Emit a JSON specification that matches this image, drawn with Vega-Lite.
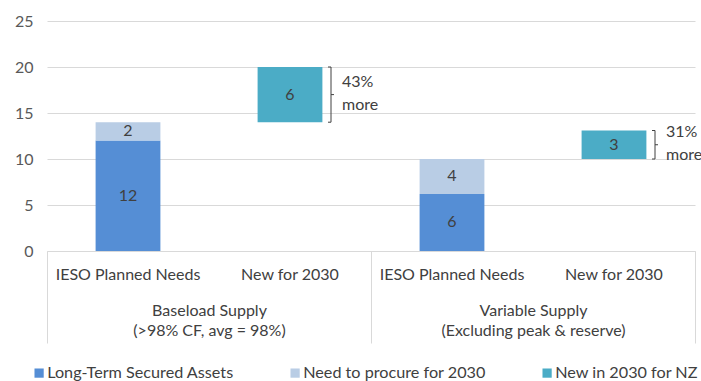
{
  "$schema": "https://vega.github.io/schema/vega-lite/v6.json",
  "width": 648,
  "height": 230,
  "autosize": {"type": "none"},
  "padding": {"left": 47, "top": 21, "right": 6, "bottom": 130},
  "background": "white",
  "config": {"view": {"stroke": null}, "font": "Lato"},
  "layer": [
    {
      "data": {
        "values": [
          {"cat": "b1", "series": "Long-Term Secured Assets", "low": 0, "high": 12},
          {"cat": "b1", "series": "Need to procure for 2030", "low": 12, "high": 14},
          {"cat": "b2", "series": "New in 2030 for NZ", "low": 14, "high": 20, "note": "43%\nmore"},
          {"cat": "v1", "series": "Long-Term Secured Assets", "low": 0, "high": 6.2},
          {"cat": "v1", "series": "Need to procure for 2030", "low": 6.2, "high": 10},
          {"cat": "v2", "series": "New in 2030 for NZ", "low": 10, "high": 13.1, "note": "31%\nmore"}
        ]
      },
      "transform": [
        {"calculate": "(datum.low + datum.high) / 2", "as": "mid"},
        {"calculate": "datum.high - datum.low", "as": "value"}
      ],
      "encoding": {
        "x": {
          "field": "cat",
          "type": "nominal",
          "sort": ["b1", "b2", "v1", "v2"],
          "scale": {"paddingInner": 0.6, "paddingOuter": 0.3},
          "axis": {
            "orient": "bottom",
            "title": null,
            "labelExpr": "datum.value == 'b1' || datum.value == 'v1' ? 'IESO Planned Needs' : 'New for 2030'",
            "domain": true,
            "domainColor": "#d9d9d9",
            "ticks": false,
            "labelPadding": 15,
            "labelFontSize": 16,
            "labelColor": "#404040",
            "labelAngle": 0,
            "labelLimit": 300
          }
        }
      },
      "layer": [
        {
          "mark": {"type": "bar"},
          "encoding": {
            "y": {
              "field": "low",
              "type": "quantitative",
              "scale": {"domain": [0, 25], "nice": false},
              "axis": {
                "values": [0, 5, 10, 15, 20, 25],
                "grid": true,
                "gridColor": "#d9d9d9",
                "domain": false,
                "ticks": false,
                "labelPadding": 14,
                "labelFontSize": 16,
                "labelColor": "#595959",
                "title": null
              }
            },
            "y2": {"field": "high"},
            "color": {
              "field": "series",
              "type": "nominal",
              "scale": {
                "domain": ["Long-Term Secured Assets", "Need to procure for 2030", "New in 2030 for NZ"],
                "range": ["#558ed5", "#b9cde5", "#4bacc6"]
              },
              "legend": {
                "title": null,
                "orient": "none",
                "direction": "horizontal",
                "gridAlign": "none",
                "legendX": -16,
                "legendY": 344,
                "symbolType": "square",
                "symbolSize": 85,
                "symbolStrokeWidth": 0,
                "labelFontSize": 16.2,
                "labelColor": "#404040",
                "labelLimit": 400,
                "columnPadding": 53,
                "labelOffset": 0
              }
            }
          }
        },
        {
          "mark": {"type": "text", "fontSize": 16, "color": "#404040"},
          "encoding": {
            "y": {"field": "mid", "type": "quantitative"},
            "text": {"field": "value", "type": "quantitative", "format": ".0f"}
          }
        },
        {
          "transform": [{"filter": "datum.note"}],
          "mark": {"type": "rule", "xOffset": 41, "color": "#404040", "strokeWidth": 1},
          "encoding": {
            "y": {"field": "low", "type": "quantitative"},
            "y2": {"field": "high"}
          }
        },
        {
          "transform": [{"filter": "datum.note"}],
          "mark": {"type": "tick", "xOffset": 39.5, "size": 3, "thickness": 1, "color": "#404040", "opacity": 1},
          "encoding": {"y": {"field": "high", "type": "quantitative"}}
        },
        {
          "transform": [{"filter": "datum.note"}],
          "mark": {"type": "tick", "xOffset": 39.5, "size": 3, "thickness": 1, "color": "#404040", "opacity": 1},
          "encoding": {"y": {"field": "low", "type": "quantitative"}}
        },
        {
          "transform": [{"filter": "datum.note"}],
          "mark": {"type": "tick", "xOffset": 42.5, "size": 3, "thickness": 1, "color": "#404040", "opacity": 1},
          "encoding": {"y": {"field": "mid", "type": "quantitative"}}
        },
        {
          "transform": [{"filter": "datum.note"}],
          "mark": {"type": "text", "xOffset": 52, "dy": -13, "align": "left", "baseline": "middle", "lineBreak": "\n", "lineHeight": 23, "fontSize": 16, "color": "#404040"},
          "encoding": {
            "y": {"field": "mid", "type": "quantitative"},
            "text": {"field": "note"}
          }
        }
      ]
    },
    {
      "data": {"values": [{"grp": "Baseload"}, {"grp": "Variable"}]},
      "mark": {"type": "rule", "opacity": 0},
      "encoding": {
        "x": {
          "field": "grp",
          "type": "nominal",
          "scale": {"paddingInner": 0, "paddingOuter": 0},
          "axis": {
            "orient": "bottom",
            "title": null,
            "domain": false,
            "ticks": true,
            "tickBand": "extent",
            "tickSize": 92,
            "tickColor": "#d9d9d9",
            "labelExpr": "datum.value == 'Baseload' ? ['Baseload Supply', '(>98% CF, avg = 98%)'] : (datum.index == 1 ? ['Variable Supply', '(Excluding peak & reserve)'] : '')",
            "labelPadding": -41,
            "labelFontSize": 16,
            "labelColor": "#404040",
            "labelLineHeight": 20,
            "labelAngle": 0,
            "labelLimit": 400
          }
        }
      }
    }
  ],
  "resolve": {"scale": {"x": "independent"}, "axis": {"x": "independent"}}
}
